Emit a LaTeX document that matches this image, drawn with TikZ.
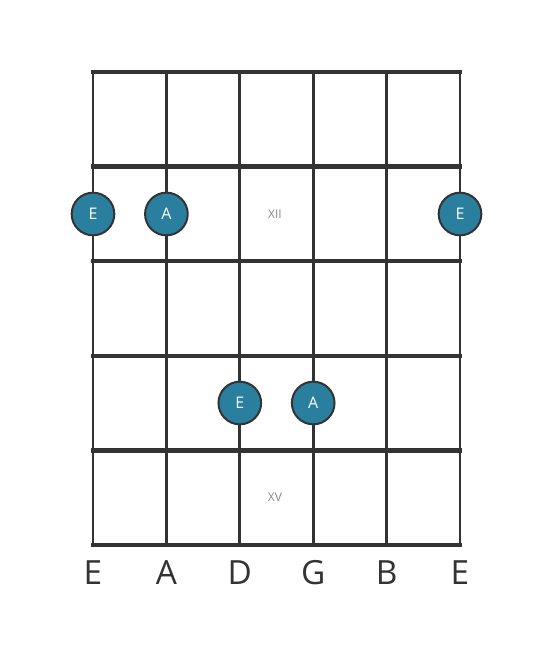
\documentclass[tikz,border=0pt]{standalone}
\usepackage{fontspec}
\setmainfont{Open Sans}
\usetikzlibrary{positioning}
\definecolor{dotblue}{HTML}{2A7F9E}
\definecolor{wire}{HTML}{333333}
\definecolor{markgray}{HTML}{8A8A8A}

\begin{document}
\begin{tikzpicture}[x=0.75pt,y=-0.75pt,
   fret/.style={draw=wire,line width=3.4pt,line cap=rect},
   wirestring/.style={draw=wire,line width=2pt},
   note/.style={circle,fill=dotblue,draw=wire,line width=1.5pt,minimum size=32pt,
     inner sep=0pt,text=white,font=\fontsize{12}{13}\selectfont},
   strname/.style={text=wire,font=\fontsize{25}{26}\selectfont},
   fretmark/.style={text=markgray,font=\fontsize{9}{10}\selectfont}]
   \useasboundingbox (0,0) rectangle (553,656);
   % strings and frets
   \foreach \s in {1,...,6} {
     \coordinate (top\s) at ({93+73.4*(\s-1)},72);
     \coordinate (bot\s) at ({93+73.4*(\s-1)},545);
     \draw[wirestring] (top\s) -- (bot\s);
   }
   \foreach \f in {0,...,5} {
     \coordinate (fl\f) at (93,{72+94.6*\f});
     \coordinate (fr\f) at (460,{72+94.6*\f});
     \draw[fret] (fl\f) -- (fr\f);
   }
   % fret markers
   \node[fretmark] (xii) at (275,214) {XII};
   \node[fretmark] (xv) at (275,497) {XV};
   % notes
   \node[note] (n1) at (93,214) {E};
   \node[note] (n2) at (166.4,214) {A};
   \node[note] (n3) at (460,214) {E};
   \node[note] (n4) at (239.8,403) {E};
   \node[note] (n5) at (313.2,403) {A};
   % string names
   \foreach \s/\t in {1/E,2/A,3/D,4/G,5/B,6/E}
     \node[strname,below=21pt of bot\s,anchor=center] (name\s) {\t};
\end{tikzpicture}
\end{document}
